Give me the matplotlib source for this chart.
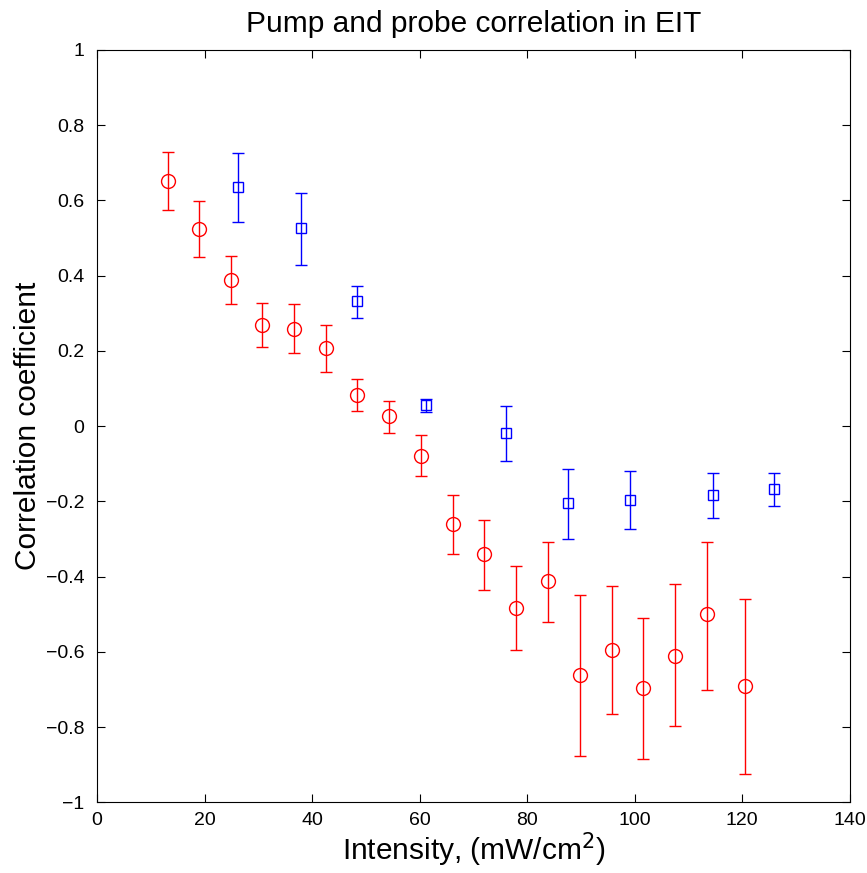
import numpy as np
import matplotlib
matplotlib.use('Agg')
import matplotlib.pyplot as plt

plt.rcParams['font.family'] = ['Liberation Sans', 'DejaVu Sans']

# pump-probe correlation, circles (red)
red_x = [13.2, 19.0, 24.9, 30.7, 36.6, 42.6, 48.3, 54.3, 60.2, 66.2,
         71.9, 77.9, 83.8, 89.8, 95.7, 101.5, 107.5, 113.4, 120.5]
red_y = [0.651, 0.523, 0.387, 0.269, 0.259, 0.208, 0.083, 0.027, -0.080, -0.261,
         -0.341, -0.483, -0.413, -0.661, -0.595, -0.696, -0.611, -0.499, -0.691]
red_top = [0.728, 0.597, 0.453, 0.328, 0.323, 0.269, 0.125, 0.067, -0.024, -0.184,
           -0.251, -0.371, -0.307, -0.448, -0.424, -0.509, -0.419, -0.307, -0.461]
red_bot = [0.573, 0.448, 0.323, 0.211, 0.195, 0.144, 0.040, -0.019, -0.133, -0.339,
           -0.435, -0.595, -0.520, -0.877, -0.765, -0.885, -0.797, -0.701, -0.925]

# squares (blue)
blue_x = [26.2, 37.9, 48.3, 61.2, 76.0, 87.6, 99.1, 114.5, 126.0]
blue_y = [0.635, 0.525, 0.331, 0.056, -0.019, -0.205, -0.197, -0.184, -0.168]
blue_top = [0.725, 0.619, 0.371, 0.072, 0.053, -0.115, -0.120, -0.125, -0.125]
blue_bot = [0.541, 0.429, 0.288, 0.037, -0.093, -0.299, -0.275, -0.245, -0.213]

fig = plt.figure(figsize=(8.67, 8.73), dpi=100)
ax = fig.add_axes([0.112, 0.081, 0.868, 0.862])

def draw(x, y, top, bot, color, marker, ms):
    y = np.array(y)
    err = [y - np.array(bot), np.array(top) - y]
    ax.errorbar(x, y, yerr=err, fmt=marker, color=color, mfc='none', mec=color,
                ms=ms, mew=1.0, elinewidth=1.0, capsize=4, capthick=1.0)

draw(red_x, red_y, red_top, red_bot, '#ff0000', 'o', 10)
draw(blue_x, blue_y, blue_top, blue_bot, '#0000ff', 's', 7.5)

ax.set_xlim(0, 140)
ax.set_ylim(-1, 1)
ax.set_xticks(np.arange(0, 141, 20))
ax.set_yticks(np.arange(-1, 1.01, 0.2))
ax.set_yticklabels(['\u22121', '\u22120.8', '\u22120.6', '\u22120.4', '\u22120.2', '0',
                    '0.2', '0.4', '0.6', '0.8', '1'])
ax.tick_params(direction='in', top=True, right=True, labelsize=14, length=6, width=0.8)
ax.tick_params(axis='y', pad=9)
ax.tick_params(axis='x', pad=7)
for s in ax.spines.values():
    s.set_linewidth(0.8)

ax.set_xlabel('Intensity, (mW/cm$^2$)', fontsize=21.5, labelpad=1)
ax.set_ylabel('Correlation coefficient', fontsize=21.5, labelpad=3)
ax.set_title('Pump and probe correlation in EIT', fontsize=21.5, pad=13)

fig.savefig('out.png', dpi=100)
